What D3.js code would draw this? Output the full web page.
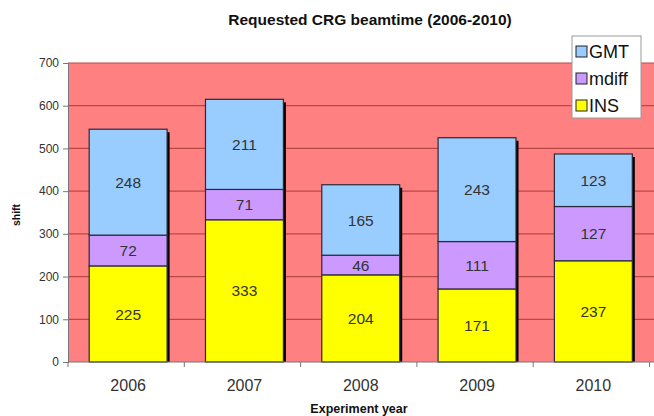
<!DOCTYPE html>
<html>
<head>
<meta charset="utf-8">
<script src="https://cdn.jsdelivr.net/npm/d3@7"></script>
<style>
  html, body { margin: 0; padding: 0; background: #fff; }
  svg { display: block; font-family: "Liberation Sans", Arial, sans-serif; }
</style>
</head>
<body>
<svg id="chart" width="654" height="416"></svg>
<script>
// Requested shifts per instrument, stacked per year
const years = ["2006", "2007", "2008", "2009", "2010"];
const INS   = [225, 333, 204, 171, 237];
const mdiff = [72, 71, 46, 111, 127];
const GMT   = [248, 211, 165, 243, 123];
const yTicks = [0, 100, 200, 300, 400, 500, 600, 700];
const seriesNames = ["INS", "mdiff", "GMT"];
const legendOrder = ["GMT", "mdiff", "INS"];

const colors = { INS: "#FFFF00", mdiff: "#CC99FF", GMT: "#99CCFF" };

const svg = d3.select("#chart");
const plot = { left: 68, right: 654, top: 63, bottom: 362 };

const rows = years.map((y, i) => ({ year: y, INS: INS[i], mdiff: mdiff[i], GMT: GMT[i] }));
const stacked = d3.stack().keys(seriesNames)(rows);

const x = d3.scaleBand().domain(years).range([70, 651.5]).padding(0);
const y = d3.scaleLinear().domain([0, 700]).range([plot.bottom, plot.top]);
const barW = x.bandwidth() * 0.67;
const barX = d => x(d.data.year) + (x.bandwidth() - barW) / 2;

// plot background
svg.append("rect")
  .attr("x", plot.left).attr("y", plot.top)
  .attr("width", plot.right - plot.left).attr("height", plot.bottom - plot.top)
  .attr("fill", "#FF8080");

// gridlines
svg.append("g")
  .selectAll("line")
  .data(yTicks.filter(t => t > 0))
  .join("line")
  .attr("x1", plot.left).attr("x2", plot.right)
  .attr("y1", d => y(d)).attr("y2", d => y(d))
  .attr("stroke", "#B94848").attr("stroke-width", 1.2);

// shadows on the right side of each stacked column
svg.append("g")
  .selectAll("rect")
  .data(stacked[stacked.length - 1])
  .join("rect")
  .attr("x", d => barX(d) + barW - 0.5)
  .attr("y", d => y(d[1]) + 3)
  .attr("width", 3)
  .attr("height", d => plot.bottom - y(d[1]) - 3)
  .attr("fill", "#000");

// stacked segments
const layer = svg.append("g")
  .selectAll("g")
  .data(stacked)
  .join("g")
  .attr("fill", d => colors[d.key]);

layer.selectAll("rect")
  .data(d => d)
  .join("rect")
  .attr("x", barX)
  .attr("y", d => y(d[1]))
  .attr("width", barW)
  .attr("height", d => y(d[0]) - y(d[1]))
  .attr("stroke", "#2a2a3a")
  .attr("stroke-width", 1.2);

// value labels inside segments
layer.selectAll("text")
  .data(d => d.map(v => ({ v, key: d.key })))
  .join("text")
  .attr("x", d => barX(d.v) + barW / 2)
  .attr("y", d => (y(d.v[0]) + y(d.v[1])) / 2)
  .attr("dy", "0.36em")
  .attr("text-anchor", "middle")
  .attr("fill", "#333")
  .attr("font-size", 15.5)
  .text(d => d.v.data[d.key]);

// y axis
const yAxis = svg.append("g")
  .attr("transform", `translate(${plot.left},0)`)
  .call(d3.axisLeft(y).tickValues(yTicks).tickSize(5).tickPadding(4).tickFormat(d3.format("d")));
yAxis.select(".domain").attr("stroke", "#777");
yAxis.selectAll(".tick line").attr("stroke", "#777");
yAxis.selectAll("text").attr("fill", "#333").attr("font-size", 12);

// x axis: ticks at category boundaries
const xg = svg.append("g").attr("transform", `translate(0,${plot.bottom})`);
xg.append("line")
  .attr("x1", plot.left).attr("x2", plot.right)
  .attr("stroke", "#777");
xg.selectAll("line.tk")
  .data(years.concat(["end"]))
  .join("line")
  .attr("class", "tk")
  .attr("x1", (d, i) => plot.left + i * x.step())
  .attr("x2", (d, i) => plot.left + i * x.step())
  .attr("y1", 0).attr("y2", 5)
  .attr("stroke", "#777");
xg.selectAll("text")
  .data(years)
  .join("text")
  .attr("x", d => x(d) + x.bandwidth() / 2)
  .attr("y", 29)
  .attr("text-anchor", "middle")
  .attr("fill", "#333")
  .attr("font-size", 16)
  .text(d => d);

// titles
svg.append("text")
  .attr("x", 370).attr("y", 25)
  .attr("text-anchor", "middle")
  .attr("font-weight", "bold").attr("font-size", 15.5)
  .attr("fill", "#111")
  .text("Requested CRG beamtime (2006-2010)");

svg.append("text")
  .attr("x", 359).attr("y", 413)
  .attr("text-anchor", "middle")
  .attr("font-weight", "bold").attr("font-size", 12.5)
  .attr("fill", "#111")
  .text("Experiment year");

svg.append("text")
  .attr("transform", "translate(20,215) rotate(-90)")
  .attr("text-anchor", "middle")
  .attr("font-weight", "bold").attr("font-size", 10.5)
  .attr("fill", "#111")
  .text("shift");

// legend
const lg = svg.append("g").attr("transform", "translate(572,36)");
lg.append("rect")
  .attr("width", 69).attr("height", 82)
  .attr("fill", "#fff").attr("stroke", "#999");
lg.selectAll("g")
  .data(legendOrder)
  .join("g")
  .attr("transform", (d, i) => `translate(4,${16 + i * 27})`)
  .call(g => {
    g.append("rect")
      .attr("x", 0).attr("y", -6).attr("width", 11).attr("height", 11)
      .attr("fill", d => colors[d]).attr("stroke", "#222");
    g.append("text")
      .attr("x", 13).attr("y", 0).attr("dy", "0.36em")
      .attr("font-size", 18).attr("fill", "#111")
      .text(d => d);
  });
</script>
</body>
</html>
